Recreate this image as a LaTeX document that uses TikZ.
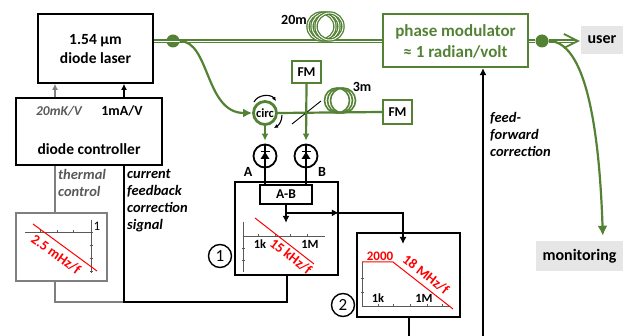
\documentclass[tikz,border=0pt]{standalone}
\usepackage{fontspec}
\setmainfont{Carlito}
\usetikzlibrary{arrows.meta,calc}
\definecolor{fgreen}{HTML}{548235}
\definecolor{gline}{HTML}{7F7F7F}
\definecolor{gtext}{HTML}{595959}
\definecolor{lgfill}{HTML}{E7E6E6}
\definecolor{axisc}{HTML}{595959}
\begin{document}
\begin{tikzpicture}[x=1pt,y=-1pt,
  box/.style={draw=black, line width=1.7pt, inner sep=0pt},
  gbox/.style={draw=fgreen, line width=2.2pt, inner sep=0pt},
  big/.style={font=\bfseries\fontsize{15.5}{19}\selectfont, inner sep=0pt, align=center},
  mid/.style={font=\bfseries\fontsize{14}{15}\selectfont, inner sep=0pt},
  small/.style={font=\bfseries\fontsize{12.5}{13}\selectfont, inner sep=0pt},
  ital/.style={font=\bfseries\itshape\fontsize{14.5}{17}\selectfont, inner sep=0pt, align=left, anchor=north west},
  redt/.style={text=red, font=\bfseries\fontsize{14}{14}\selectfont, inner sep=0pt},
  fiber/.style={draw=fgreen, double=white, double distance=0.9pt, line width=1.3pt},
  beam/.style={draw=fgreen, line width=2.2pt},
  bline/.style={draw=black, line width=2pt},
  glinest/.style={draw=gline, line width=2.5pt},
  axis/.style={draw=axisc, line width=0.8pt},
  redl/.style={draw=red, line width=1pt},
  dotn/.style={circle, fill=fgreen, minimum size=13pt, inner sep=0pt},
  pd/.style={circle, draw=black, line width=1.8pt, minimum size=23pt, inner sep=0pt},
  numc/.style={circle, draw=black, line width=1.4pt, minimum size=23pt, inner sep=0pt, font=\fontsize{17}{17}\selectfont},
  tip/.style={-{Latex[length=7pt,width=7pt]}},
  fmst/.style={gbox, font=\bfseries\fontsize{13.5}{13}\selectfont}
]
\useasboundingbox (0,0) rectangle (627,336);

% ---- laser and controller
\node[box, minimum width=115pt, minimum height=69pt] (laser) at (95.5,48.5) {};
\node[big] (lasertxt) at (95.5,49.5) {1.54 µm\\diode laser};
\node[box, minimum width=146pt, minimum height=67pt] (ctrl) at (89,131.5) {};
\node[font=\bfseries\itshape\fontsize{13.5}{15}\selectfont, text=gtext, inner sep=0pt] (mk) at (59,111) {20mK/V};
\node[mid] (ma) at (122,111) {1mA/V};
\node[big] (dc) at (89,149) {diode controller};
\coordinate (tx) at (55,0);
\coordinate (cx) at (124,0);
\draw[glinest, -{Latex[length=6pt,width=6pt]}] (ctrl.north -| tx) -- (laser.south -| tx);
\draw[bline, -{Latex[length=6pt,width=6pt]}] (ctrl.north -| cx) -- (laser.south -| cx);

% ---- box 1
\node[box, minimum width=103pt, minimum height=93pt] (box1) at (286.5,228.5) {};

% ---- thermal control box
\node[draw=gline, line width=2.6pt, minimum width=91pt, minimum height=68pt, inner sep=0pt] (therm) at (61.5,247) {};
\node[ital, text=gtext] (thtxt) at (58,169) {thermal\\control};
\node[ital] (cftxt) at (127,169) {current\\feedback\\correction\\signal};
\coordinate (junc) at (124,302);
\coordinate (ox) at (287,0);
\draw[glinest] (ctrl.south -| tx) -- (therm.north -| tx);
\draw[glinest] (therm.south -| tx) |- (junc);
\draw[bline] (ctrl.south -| cx) -- (junc) -| (box1.south -| ox);
% graph in thermal box
\draw[axis] (25,232) -- (93,232);
\draw[axis] (91,220) -- (91,273);
\foreach \xx in {40,57,73} \draw[axis] (\xx,230.5) -- (\xx,233.5);
\foreach \yy in {245,258,271} \draw[axis] (89.5,\yy) -- (92.5,\yy);
\node[font=\fontsize{13}{13}\selectfont, inner sep=0pt] (one1) at (97,226) {1};
\draw[redl] (33,224) -- (97,271);
\node[redt, rotate=-36] (r1) at (56,254.5) {2.5 mHz/f};

% ---- phase modulator and fiber
\node[gbox, minimum width=145pt, minimum height=53pt] (pm) at (455.5,40.5) {};
\node[font=\bfseries\fontsize{17}{21}\selectfont, text=fgreen, inner sep=0pt, align=center] (pmtxt) at (455.5,41.5) {phase modulator\\≈ 1 radian/volt};
\node[dotn] (dotL) at (173,41) {};
\node[dotn] (dotR) at (542,41) {};
\draw[fiber] (laser.east |- dotL) -- (pm.west |- dotL);
\foreach \dx in {0,4,8} \draw[fiber] (321.5+\dx,26.5) circle[radius=13.5pt];
\node[mid] (l20) at (294,20) {20m};
\draw[fiber] (pm.east |- dotR) -- (dotR);
\node[fill=lgfill, minimum width=42pt, minimum height=28pt, inner sep=0pt, font=\bfseries\fontsize{16}{16}\selectfont] (user) at (602,40) {user};
\node[fill=lgfill, minimum width=87pt, minimum height=30pt, inner sep=0pt, font=\bfseries\fontsize{16}{16}\selectfont] (mon) at (579.5,256) {monitoring};
\coordinate (utip) at ($(user.west |- dotR)+(-3,0)$);
\draw[fiber] (dotR) -- ($(utip)+(-2,0)$);
\draw[fgreen, line width=1.8pt, line join=miter] ($(utip)+(-14,-7)$) -- (utip) -- ($(utip)+(-14,7)$);
\coordinate (monx) at (603,0);
\draw[beam, -{Latex[length=10pt,width=10pt]}, shorten >=5pt] (dotR) .. controls (590,41) and (600,150) .. (mon.north -| monx);

% ---- interferometer
\node[circle, draw=fgreen, line width=2.8pt, minimum size=23pt, inner sep=0pt, font=\bfseries\fontsize{12.5}{12}\selectfont] (circ) at (265,113) {circ};
\draw[beam, -{Latex[length=9pt,width=9pt]}] (dotL) .. controls (210,41) and (205,113) .. (circ.west);
\node[fmst, minimum width=29pt, minimum height=22pt] (fmt) at (306.5,72) {FM};
\node[fmst, minimum width=29pt, minimum height=24pt] (fmr) at (397.5,112) {FM};
\draw[beam] (circ.east) -- (fmr.west);
\foreach \dx in {0,3,6} \draw[fgreen, line width=1.6pt] (337+\dx,100.5) circle[radius=12.5pt];
\node[mid] (l3) at (362,87) {3m};
\draw[black, line width=0.9pt] (292,124) -- (321,101);
\draw[black, line width=1.1pt, -{Latex[length=4pt,width=4pt]}] (254,102) .. controls (258,94) and (271,94) .. (276,101);
\draw[black, line width=1.1pt, -{Latex[length=4pt,width=4pt]}] (282,115) .. controls (282,121) and (279,125) .. (274,128);
\node[pd] (pdA) at (265,156) {};
\node[pd] (pdB) at (306,156) {};
\foreach \p in {pdA,pdB} {
  \draw[black, line width=1.6pt] (\p.north) -- (\p.south);
  \fill[black] ($(\p)+(-4.5,3)$) -- ($(\p)+(4.5,3)$) -- ($(\p)+(0,-4)$) -- cycle;
  \draw[black, line width=1.4pt] ($(\p)+(-4.5,-4.5)$) -- ($(\p)+(4.5,-4.5)$);
}
\draw[beam, -{Latex[length=7pt,width=7pt]}, shorten >=3pt] (circ.south) -- (pdA.north);
\draw[beam, -{Latex[length=7pt,width=7pt]}, shorten >=3pt] (fmt.south) -- (pdB.north);
\node[mid] (lA) at (248,172) {A};
\node[mid] (lB) at (322,172) {B};

% ---- box 1 content
\node[box, minimum width=52pt, minimum height=19pt, font=\bfseries\fontsize{13.5}{12}\selectfont] (AB) at (286,194.5) {A-B};
\draw[bline] (pdA.south) -- (AB.north -| pdA);
\draw[bline] (pdB.south) -- (AB.north -| pdB);
\draw[bline, tip] (AB.south) -- ++(0,18);
\coordinate (jn) at ($(AB.south)+(0,8)$);
\draw[bline, tip] (jn) -- (box1.east |- jn);
\coordinate (b2in) at (403,244);
\draw[bline, tip] (box1.east |- jn) -| (b2in);
\draw[axis] (243,222) -- (243,272);
\draw[axis] (243,236) -- (325,236);
\foreach \xx in {258,275,290,307} \draw[axis] (\xx,234.5) -- (\xx,237.5);
\foreach \yy in {248,260} \draw[axis] (241.5,\yy) -- (244.5,\yy);
\node[small] (k1) at (260,244) {1k};
\node[small] (m1) at (310,244) {1M};
\draw[redl] (255,218) -- (314,264);
\node[redt, rotate=-38] (r2) at (291,256.5) {15 kHz/f};
\node[numc] (n1) at (220,256) {1};

% ---- box 2
\node[box, minimum width=103pt, minimum height=84pt] (box2) at (408.5,275) {};
\coordinate (b2out) at (409,336);
\draw[bline] (box2.south) -- (box2.south |- b2out);
\draw[axis] (362,262) -- (362,306);
\draw[axis] (362,306) -- (450,306);
\foreach \xx in {378,393,410,427,442} \draw[axis] (\xx,304.5) -- (\xx,307.5);
\foreach \yy in {278,292} \draw[axis] (360.5,\yy) -- (363.5,\yy);
\node[small] (k2) at (378,298) {1k};
\node[small] (m2) at (424,298) {1M};
\draw[redl] (362,262) -- (393,262) -- (453,309);
\node[redt, font=\bfseries\fontsize{13}{13}\selectfont] (r2000) at (380,256) {2000};
\node[redt, rotate=-38] (r3) at (426,274.5) {18 MHz/f};
\node[numc] (n2) at (343,305) {2};

% ---- feed-forward
\coordinate (ffb) at (483,336);
\draw[bline, tip] (ffb) -- (pm.south -| ffb);
\node[ital] (fftxt) at (490,112) {feed-\\forward\\correction};
\end{tikzpicture}
\end{document}
